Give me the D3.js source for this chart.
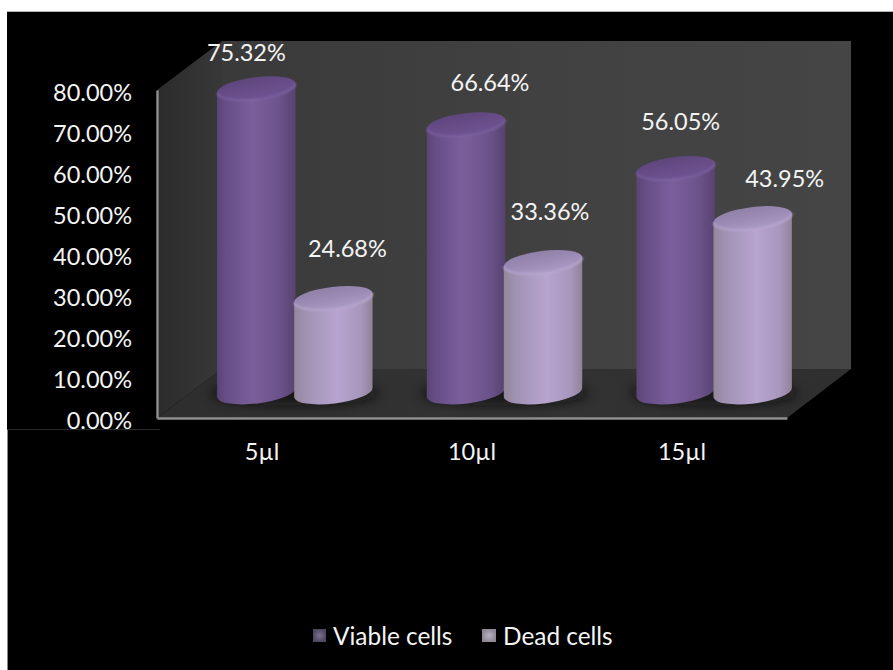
<!DOCTYPE html>
<html>
<head>
<meta charset="utf-8">
<script src="https://cdn.jsdelivr.net/npm/d3@7"></script>
<style>
html,body{margin:0;padding:0;background:#fff}
svg{display:block}
text{font-family:Lato,"Noto Sans",sans-serif;fill:#f4f4f4}
</style>
</head>
<body>
<svg id="chart" width="893" height="670"></svg>
<script>
// Chart values
const categories = ["5µl", "10µl", "15µl"];
const seriesNames = ["Viable cells", "Dead cells"];
const viableCells = [75.32, 66.64, 56.05];
const deadCells = [24.68, 33.36, 43.95];
const yTicks = [0, 10, 20, 30, 40, 50, 60, 70, 80];

// Hand-placed data label offsets from each cylinder top, per series then category
const labelNudgeX = [[-10, 24, 5], [14, 7, 32]];
const labelNudgeY = [[-36, -42, -46], [-49, -50, -40]];

const svg = d3.select("#chart");
const defs = svg.append("defs");

// Page background with the black chart area
svg.append("rect").attr("width", 893).attr("height", 670).attr("fill", "#fff");
svg.append("rect").attr("x", 7).attr("y", 11).attr("width", 886).attr("height", 659)
  .attr("fill", "#000");
svg.append("line").attr("x1", 7).attr("x2", 893).attr("y1", 11.5).attr("y2", 11.5)
  .attr("stroke", "#b5b5b5");
svg.append("line").attr("x1", 7.5).attr("x2", 7.5).attr("y1", 429).attr("y2", 670)
  .attr("stroke", "#8a8a8a");
svg.append("line").attr("x1", 7).attr("x2", 160).attr("y1", 429.5).attr("y2", 429.5)
  .attr("stroke", "#2a2a2a");

// Gradient helper
function linear(id, stops, x2 = "100%", y2 = "0%") {
  const g = defs.append("linearGradient").attr("id", id)
    .attr("x1", "0%").attr("y1", "0%").attr("x2", x2).attr("y2", y2);
  stops.forEach(([o, c]) => g.append("stop").attr("offset", o).attr("stop-color", c));
}
linear("wall", [[0, "#3a3a3a"], [0.5, "#414141"], [1, "#454545"]]);
linear("side", [[0, "#2b2b2b"], [1, "#383838"]]);
linear("floor", [[0, "#2e2e2e"], [0.5, "#333333"], [1, "#2f2f2f"]]);
linear("body0", [[0, "#5a4575"], [0.12, "#674e88"], [0.45, "#7b5f9c"], [0.8, "#6c528b"], [1, "#574270"]]);
linear("body1", [[0, "#948698"], [0.15, "#a092b4"], [0.55, "#b7a4cf"], [0.85, "#a896bd"], [1, "#918299"]]);
linear("cap0", [[0, "#5d4479"], [0.5, "#664b86"], [1, "#6d5290"]], "30%", "100%");
linear("cap1", [[0, "#8e7fa6"], [0.6, "#9b8bb5"], [1, "#a898c2"]], "30%", "100%");
defs.append("filter").attr("id", "soft").attr("x", "-30%").attr("y", "-60%")
  .attr("width", "160%").attr("height", "220%")
  .append("feGaussianBlur").attr("stdDeviation", 6);
defs.append("filter").attr("id", "rim").append("feGaussianBlur").attr("stdDeviation", 1);
seriesNames.forEach((_, i) => {
  const g = defs.append("radialGradient").attr("id", "swatch" + i);
  g.append("stop").attr("offset", 0).attr("stop-color", i ? "#b9b4c2" : "#7d7190");
  g.append("stop").attr("offset", 1).attr("stop-color", i ? "#8d8796" : "#4f4760");
});

// Front plane of the 3-D box carries the axes, the back wall sits behind it
const front = { left: 157, right: 787, bottom: 418, top: 90 };
const back = { left: 222, right: 851, bottom: 369, top: 41 };

svg.append("path").attr("fill", "url(#side)").attr("d",
  `M${front.left},${front.top}L${back.left},${back.top}L${back.left},${back.bottom}L${front.left},${front.bottom}Z`);
svg.append("rect").attr("x", back.left).attr("y", back.top)
  .attr("width", back.right - back.left).attr("height", back.bottom - back.top)
  .attr("fill", "url(#wall)");
svg.append("path").attr("fill", "url(#floor)").attr("d",
  `M${front.left},${front.bottom}L${back.left},${back.bottom}L${back.right},${back.bottom}L${front.right},${front.bottom}Z`);

// Scales
const xFront = d3.scaleBand().domain(categories).range([front.left, front.right]);
const yFront = d3.scaleLinear().domain([0, 80]).range([front.bottom, front.top]);
// Cylinders stand midway between the front plane and the back wall
const xMid = d3.scaleBand().domain(categories).range([190, 819]);
const xSeries = d3.scalePoint().domain(seriesNames).range([-38.5, 38.5]);
const yCap = d3.scaleLinear().domain([0, 80]).range([400, 68.8]);
const baseY = 392.5;

// Axes
const yAxis = d3.axisLeft(yFront).tickValues(yTicks).tickSize(0).tickPadding(25)
  .tickFormat(d => d3.format(".2f")(d) + "%");
const xAxis = d3.axisBottom(xFront).tickSize(0).tickPadding(25);

const yG = svg.append("g").attr("transform", `translate(${front.left},0)`).call(yAxis);
const xG = svg.append("g").attr("transform", `translate(0,${front.bottom})`).call(xAxis);
[yG, xG].forEach(g => {
  g.select(".domain").attr("stroke", "#8f8f8f").attr("stroke-width", 2.4);
  g.selectAll("text").attr("font-family", 'Lato,"Noto Sans",sans-serif')
    .attr("font-size", 23.5).style("fill", "#f4f4f4");
});
yG.selectAll("text").attr("dy", "0.44em");

// Cylinders
const rx = 39.5, ry = 11, tilt = -7;
const dx = rx * Math.cos(tilt * Math.PI / 180), dy = rx * Math.sin(tilt * Math.PI / 180);
const values = [viableCells, deadCells];
const bars = categories.flatMap((c, ci) => seriesNames.map((s, si) => ({
  c, s, ci, si, v: values[si][ci],
  cx: xMid(c) + xMid.bandwidth() / 2 + xSeries(s)
})));

const marks = svg.append("g");

// Contact shadows on the floor
marks.selectAll("ellipse.shadow").data(categories).join("ellipse")
  .attr("class", "shadow")
  .attr("cx", c => xMid(c) + xMid.bandwidth() / 2)
  .attr("cy", baseY + 1)
  .attr("rx", 84).attr("ry", 12)
  .attr("fill", "#0c0c0c").attr("opacity", 0.7).attr("filter", "url(#soft)");

const bar = marks.selectAll("g.bar").data(bars).join("g").attr("class", "bar");

bar.append("path")
  .attr("fill", d => `url(#body${d.si})`)
  .attr("d", d => {
    const top = yCap(d.v);
    return `M${d.cx - dx},${top - dy}L${d.cx + dx},${top + dy}` +
      `L${d.cx + dx},${baseY + dy}` +
      `A${rx},${ry} ${tilt} 0 1 ${d.cx - dx},${baseY - dy}Z`;
  });

// Cap with a softly lit lower rim
bar.append("ellipse")
  .attr("rx", rx).attr("ry", ry)
  .attr("transform", d => `translate(${d.cx},${yCap(d.v)}) rotate(${tilt})`)
  .attr("fill", d => `url(#cap${d.si})`);
bar.append("path")
  .attr("fill", "none")
  .attr("stroke", d => d.si ? "#bba9d3" : "#7f64a3")
  .attr("stroke-width", 1.6)
  .attr("filter", "url(#rim)")
  .attr("d", d => {
    const top = yCap(d.v);
    return `M${d.cx + dx},${top + dy}A${rx},${ry} ${tilt} 0 1 ${d.cx - dx},${top - dy}`;
  });

// Data labels
svg.append("g").selectAll("text").data(bars).join("text")
  .attr("x", d => d.cx + labelNudgeX[d.si][d.ci])
  .attr("y", d => yCap(d.v) + labelNudgeY[d.si][d.ci])
  .attr("dy", "0.36em")
  .attr("text-anchor", "middle")
  .attr("font-size", 23.5)
  .text(d => d.v.toFixed(2) + "%");

// Legend
const legendX = d3.scaleOrdinal().domain(seriesNames).range([313, 482]);
const legend = svg.append("g").selectAll("g").data(seriesNames).join("g")
  .attr("transform", d => `translate(${legendX(d)},629)`);
legend.append("rect").attr("width", (d, i) => i ? 14 : 13).attr("height", 13)
  .attr("fill", (d, i) => `url(#swatch${i})`);
legend.append("text").attr("x", (d, i) => i ? 21 : 20).attr("y", 7)
  .attr("dy", "0.36em").attr("font-size", 24.4).text(d => d);
</script>
</body>
</html>
